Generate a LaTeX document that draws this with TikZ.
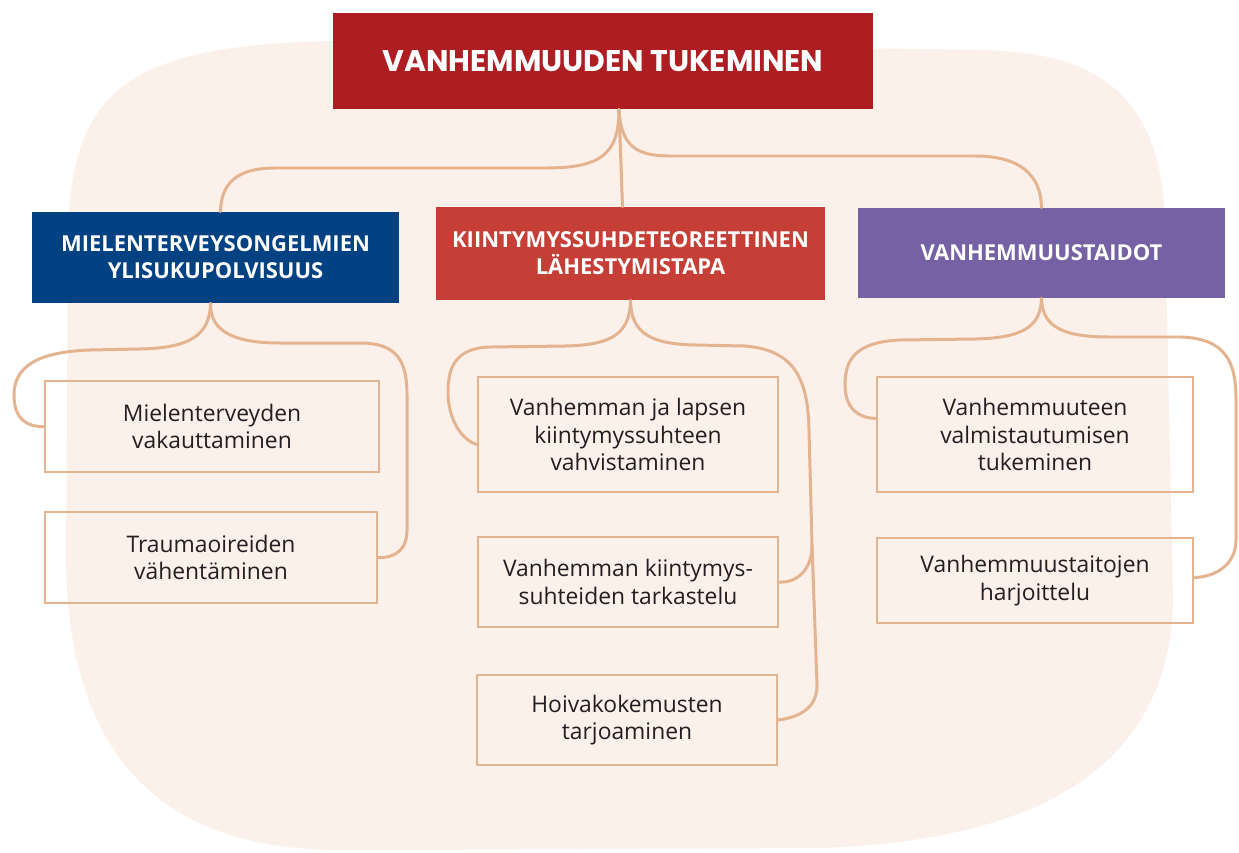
\documentclass[tikz,border=0pt]{standalone}
\usepackage{fontspec}
\setmainfont{Open Sans}
\newfontfamily\titlefont{Poppins}
\usepackage{xcolor}
\usetikzlibrary{shapes,arrows,positioning,calc}

\definecolor{titlered}{HTML}{AD1D22}
\definecolor{mhblue}{HTML}{024182}
\definecolor{kiired}{HTML}{C53F36}
\definecolor{vpurple}{HTML}{7561A3}
\definecolor{blobpink}{HTML}{FCF0EA}
\definecolor{linetan}{HTML}{E4B38F}
\definecolor{textdark}{HTML}{231F20}
\newcommand{\pxl}{0.02cm}

\begin{document}
\begin{tikzpicture}[x=0.02cm,y=-0.02cm,
  conn/.style={draw=linetan,line width=1.7pt,line cap=round},
  topbox/.style={fill=titlered,text=white,inner sep=0pt,font=\titlefont\bfseries\fontsize{17}{20}\selectfont},
  headbox/.style={text=white,inner sep=0pt,align=center,font=\bfseries\fontsize{12.5}{15.3}\selectfont},
  itembox/.style={draw=linetan,line width=1.5pt,inner sep=0pt,align=center,text=textdark,font=\fontsize{13}{15.6}\selectfont}]
\fill[white] (0,0) rectangle (1239,852);
% background blob
\fill[blobpink] (333,41) .. controls (120,45) and (70,95) .. (68,240) -- (66,560)
  .. controls (68,720) and (130,850) .. (340,850) -- (820,848)
  .. controls (1050,840) and (1170,760) .. (1173,600) -- (1165,220)
  .. controls (1160,80) and (1080,52) .. (980,50) -- cycle;

% main topic
\node[topbox,minimum width=540*\pxl,minimum height=96*\pxl] (top) at (603,61) {VANHEMMUUDEN TUKEMINEN};

% themes
\node[headbox,fill=mhblue,minimum width=367*\pxl,minimum height=91*\pxl] (mh) at (215.5,257.5) {MIELENTERVEYSONGELMIEN\\YLISUKUPOLVISUUS};
\node[headbox,fill=kiired,minimum width=389*\pxl,minimum height=93*\pxl] (kt) at (630.5,253.5) {KIINTYMYSSUHDETEOREETTINEN\\LÄHESTYMISTAPA};
\node[headbox,fill=vpurple,minimum width=367*\pxl,minimum height=90*\pxl] (vt) at (1041.5,253) {VANHEMMUUSTAIDOT};

% items
\node[itembox,minimum width=334*\pxl,minimum height=91*\pxl] (mh1) at (212,426.5) {Mielenterveyden\\vakauttaminen};
\node[itembox,minimum width=332*\pxl,minimum height=91*\pxl] (mh2) at (211,557.5) {Traumaoireiden\\vähentäminen};
\node[itembox,minimum width=300*\pxl,minimum height=115*\pxl] (kt1) at (628,434.5) {Vanhemman ja lapsen\\kiintymyssuhteen\\vahvistaminen};
\node[itembox,minimum width=300*\pxl,minimum height=90*\pxl] (kt2) at (628,582) {Vanhemman kiintymys-\\suhteiden tarkastelu};
\node[itembox,minimum width=300*\pxl,minimum height=90*\pxl] (kt3) at (627,720) {Hoivakokemusten\\tarjoaminen};
\node[itembox,minimum width=316*\pxl,minimum height=115*\pxl] (vt1) at (1035,434.5) {Vanhemmuuteen\\valmistautumisen\\tukeminen};
\node[itembox,minimum width=316*\pxl,minimum height=85*\pxl] (vt2) at (1035,580.5) {Vanhemmuustaitojen\\harjoittelu};

% top level connectors
\coordinate (troot) at ($(top.south)+(16,0)$);
\draw[conn] (troot) .. controls (619,155) and (600,168) .. (545,168) -- (275,168)
  .. controls (235,168) and (221,185) .. ($(mh.north)+(5,0)$);
\draw[conn] (troot) -- ($(kt.north)+(-8,0)$);
\draw[conn] (troot) .. controls (621,145) and (635,156) .. (670,156) -- (975,156)
  .. controls (1020,156) and (1041,175) .. (vt.north);

% left column
\coordinate (mhroot) at ($(mh.south)+(-5,0)$);
\draw[conn] (mhroot) .. controls (210,335) and (190,348) .. (140,349) -- (90,350)
  .. controls (35,352) and (14,368) .. (14,395) .. controls (14,420) and (28,427) .. (mh1.west);
\draw[conn] (mhroot) .. controls (210,332) and (235,343) .. (280,343) -- (360,343)
  .. controls (398,343) and (407,362) .. (407,395) -- (407,530)
  .. controls (407,550) and (395,558) .. (mh2.east);

% middle column
\coordinate (mfork) at (812,545);
\draw[conn] (kt.south) .. controls (630,335) and (610,345) .. (565,346) -- (490,347)
  .. controls (455,348) and (448,368) .. (448,392) .. controls (448,420) and (462,440) .. ($(kt1.west)+(0,10)$);
\draw[conn] (kt.south) .. controls (631,333) and (650,344) .. (695,345) -- (745,346)
  .. controls (795,350) and (808,380) .. (809,430) -- (mfork);
\draw[conn] (mfork) .. controls (812,570) and (797,583) .. (kt2.east);
\draw[conn] (mfork) -- (817,685) .. controls (817,708) and (800,717) .. (kt3.east);

% right column
\draw[conn] (vt.south) .. controls (1041,328) and (1020,338) .. (975,339) -- (900,340)
  .. controls (855,342) and (845,360) .. (845,385) .. controls (845,408) and (858,418) .. ($(vt1.west)+(0,-16)$);
\draw[conn] (vt.south) .. controls (1042,328) and (1065,337) .. (1110,337) -- (1180,337)
  .. controls (1228,338) and (1236,365) .. (1236,400) -- (1236,540)
  .. controls (1236,565) and (1215,577) .. ($(vt2.east)+(0,-3)$);
\end{tikzpicture}
\end{document}
